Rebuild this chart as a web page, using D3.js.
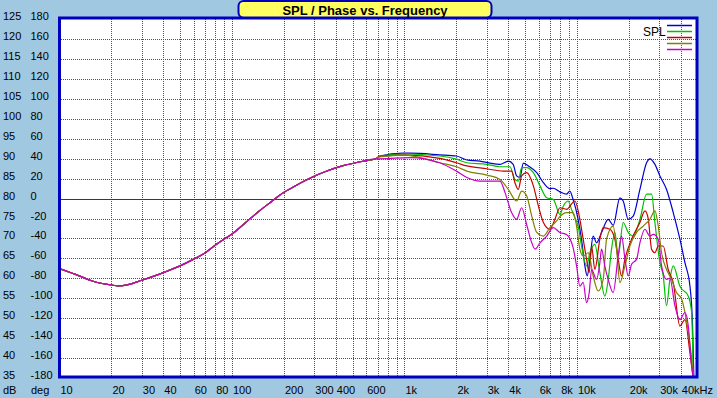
<!DOCTYPE html>
<html><head><meta charset="utf-8">
<script src="https://cdn.jsdelivr.net/npm/d3@7"></script>
<style>html,body{margin:0;padding:0;background:#a0c8e0;} svg{display:block;}</style>
</head><body><svg id="c" width="717" height="398"></svg>
<script>
// ---------- data ----------
const dbLabels  = [125,120,115,110,105,100,95,90,85,80,75,70,65,60,55,50,45,40,35];
const degLabels = [180,160,140,120,100,80,60,40,20,0,-20,-40,-60,-80,-100,-120,-140,-160,-180];
const freqLabelValues = [10,20,30,40,60,80,100,200,300,400,600,1000,2000,3000,4000,6000,8000,10000,20000,30000,40000];
const freqLabelTexts  = ["10","20","30","40","60","80","100","200","300","400","600","1k","2k","3k","4k","6k","8k","10k","20k","30k","40kHz"];
const seriesNames = ["blue","green","red","olive","magenta"];
const seriesColors = ["#0000d0","#00c000","#c80000","#808000","#c800c8"];

// shared low/mid frequency part (all curves coincide)
const sharedFreq = [10,13,15.5,20,22,25,30,40,50,60,70,80,90,100,120,144,171,188,224,279,349,436,545,681];
const sharedSPL  = [62.4,60.6,59.3,58.3,58.1,58.4,59.5,61.4,63.1,64.8,66.4,68.3,69.8,71.1,74.0,76.9,79.4,80.8,82.8,85.0,86.8,88.2,89.2,90.0];

const blueFreq = [720,980,1080,1600,2000,2300,2740,3130,3580,4000,4270,4470,4670,4890,5230,5850,6390,6970,7290,7970,8700,9090,9500,10160,10630,11120,11470,11890,12420,12990,13890,15180,16220,17740,18540,19830,21200,23180,25340,26490,28320,30270,33080,36160,39540,42280,45220,46800,47640];
const blueSPL  = [90.7,91.4,91.4,91.0,90.7,89.7,89.4,88.9,88.6,89.4,88.6,85.7,85.3,88.9,88.2,86.5,84.0,82.5,82.6,81.7,81.1,81.9,79.8,74.8,69.8,63.1,60.6,64.8,70.6,68.9,71.5,74.8,73.3,80.2,79.4,74.8,75.6,82.3,89.0,90.0,88.6,85.7,82.3,76.5,69.8,63.9,58.0,48.0,35.0];

const greenFreq = [720,1000,1600,2000,2300,3000,3580,4090,4370,4570,4780,5110,5590,6110,6680,7290,7970,8330,8890,9300,9730,10160,10630,11370,11890,12700,13580,14520,15180,15870,16590,17340,18540,19830,21200,23180,25340,27090,28320,30270,31640,33080,34590,36160,39540,44220,46240,47200];
const greenSPL  = [90.7,91.2,90.7,89.9,89.0,88.6,88.0,88.0,84.8,84.4,87.8,87.8,86.5,83.2,80.2,79.8,76.0,78.1,79.4,77.3,75.2,73.1,68.1,63.1,66.4,68.5,61.4,55.5,59.7,67.3,71.5,65.6,74.0,71.5,70.6,74.8,81.1,81.1,74.0,63.9,60.6,53.1,59.7,63.1,58.0,55.5,51.4,35.6];

const redFreq = [720,1000,1600,2000,2300,3000,3740,4180,4370,4570,4780,5110,5590,5980,6390,6970,7450,7970,8700,9730,10400,10870,11370,11780,12160,12700,13580,14200,15520,16590,17340,18140,18970,20740,23180,24780,25900,27090,28320,29600,31640,33820,36160,39540,42280,45220,47200];
const redSPL  = [90.6,90.9,90.1,89.0,88.2,87.5,86.9,86.9,84.0,82.3,85.7,86.5,83.2,78.1,74.0,72.3,74.8,77.7,77.3,79.4,74.8,69.8,64.8,61.4,68.1,62.2,69.8,72.7,72.3,69.8,64.8,60.6,64.8,69.8,74.0,76.9,75.0,67.3,66.4,68.1,68.1,62.2,58.9,48.0,49.6,41.2,35.0];

const oliveFreq = [720,1000,1600,2000,2300,3000,3580,4000,4470,4780,5110,5470,5850,6390,6970,7620,7970,8700,9500,9950,10400,10870,11630,12420,13280,14200,14850,16220,16970,17740,18970,20280,22180,24230,26490,28320,29600,30950,33080,35370,37820,40440,42280,44220,46240,47200];
const oliveSPL  = [90.5,90.9,89.0,88.0,86.9,85.9,84.8,82.3,79.4,81.9,80.7,75.6,71.5,70.6,72.7,74.4,75.5,76.5,76.5,73.1,67.3,65.6,66.4,60.6,56.8,59.7,69.8,73.1,67.3,58.9,63.1,68.1,71.5,73.1,74.8,76.9,73.1,66.4,62.2,59.7,56.4,54.8,51.4,46.4,39.7,35.0];

const magentaFreq = [720,1080,1600,2000,2300,2740,3130,3580,3830,4180,4470,4780,5110,5470,5720,6110,6680,7290,7970,8700,9500,9950,10400,10870,11370,11780,12160,12990,13580,13890,14520,15180,16220,17340,18140,18970,19830,20740,22180,23180,24780,26490,27690,29600,30950,33080,34590,36990,39540,42280,44220,46240,47200];
const magentaSPL  = [90.0,90.3,89.0,86.9,85.3,84.4,84.4,84.4,81.5,76.5,74.8,77.7,73.5,68.9,67.3,68.9,70.6,72.7,71.5,71.0,67.7,63.1,58.0,59.0,53.9,56.4,62.2,59.7,63.9,67.3,63.0,59.7,56.4,65.6,70.6,65.0,60.6,63.5,64.8,68.9,72.3,70.6,71.0,69.8,63.1,59.7,60.0,53.1,49.6,51.4,48.0,38.0,35.0];

const seriesFreq = [blueFreq, greenFreq, redFreq, oliveFreq, magentaFreq];
const seriesSPL  = [blueSPL, greenSPL, redSPL, oliveSPL, magentaSPL];

// ---------- drawing ----------
const W = 717, H = 398;
const L = 59.5, R = 697.5, T = 19.4, B = 377.8;
const svg = d3.select("#c");
const font = "'Liberation Sans', Arial, sans-serif";

const x = d3.scaleLog().domain([10, 50000]).range([L, R]);
const y = d3.scaleLinear().domain([35, 125]).range([B, T]);
const yDeg = d3.scaleLinear().domain([-180, 180]).range([B, T]);

svg.append("rect").attr("width", W).attr("height", H).attr("fill", "#a0c8e0");
svg.append("rect").attr("x", L).attr("y", 18).attr("width", 697 - L).attr("height", 377 - 18).attr("fill", "#fff");

const grid = svg.append("g").attr("stroke", "#008c00").attr("stroke-width", 1)
  .attr("stroke-dasharray", "1,1");
x.ticks().filter(f => f > 10 && f < 50000).forEach(f => {
  const px = Math.round(x(f)) + 0.5;
  grid.append("line").attr("x1", px).attr("x2", px).attr("y1", 19).attr("y2", 376);
});
dbLabels.filter(d => d > 35 && d < 125).forEach(d => {
  const py = Math.round(y(d)) + 0.5;
  grid.append("line").attr("x1", 61).attr("x2", 696).attr("y1", py).attr("y2", py);
});

// 0 degree reference line
svg.append("line").attr("x1", 61).attr("x2", 696)
  .attr("y1", Math.round(yDeg(0)) + 0.5).attr("y2", Math.round(yDeg(0)) + 0.5)
  .attr("stroke", "#c00000").attr("stroke-width", 1);

svg.append("clipPath").attr("id", "clip").append("rect")
  .attr("x", L).attr("y", 18).attr("width", 697 - L).attr("height", 377 - 18);

const line = d3.line().x(d => x(d[0])).y(d => y(d[1])).curve(d3.curveMonotoneX);
const lines = svg.append("g").attr("clip-path", "url(#clip)");
seriesNames.forEach((name, i) => {
  const pts = sharedFreq.map((f, k) => [f, sharedSPL[k]])
    .concat(seriesFreq[i].map((f, k) => [f, seriesSPL[i][k]]));
  lines.append("path").datum(pts).attr("d", line)
    .attr("fill", "none").attr("stroke", seriesColors[i]).attr("stroke-width", 1.2)
    .attr("stroke-linejoin", "round");
});

// plot border
svg.append("rect").attr("x", L).attr("y", 18).attr("width", 697 - L).attr("height", 377 - 18)
  .attr("fill", "none").attr("stroke", "#0000c0").attr("stroke-width", 3);

// title
svg.append("rect").attr("x", 238.5).attr("y", 1).attr("width", 253).attr("height", 16.5).attr("rx", 5)
  .attr("fill", "#ffff60").attr("stroke", "#0000c0").attr("stroke-width", 2);
svg.append("text").attr("x", 365).attr("y", 14.5).attr("text-anchor", "middle")
  .attr("font-family", font).attr("font-size", 13).attr("font-weight", "bold").attr("fill", "#000")
  .text("SPL / Phase vs. Frequency");

// left labels
const lab = svg.append("g").attr("font-family", font).attr("font-size", 11).attr("fill", "#000");
dbLabels.forEach(d => {
  lab.append("text").attr("x", 3).attr("y", y(d) + 1).text(d);
});
degLabels.forEach(d => {
  lab.append("text").attr("x", 30.5).attr("y", yDeg(d) + 1).text(d);
});
lab.append("text").attr("x", 3).attr("y", 394).text("dB");
lab.append("text").attr("x", 31).attr("y", 394).text("deg");
freqLabelValues.forEach((f, i) => {
  lab.append("text").attr("x", x(f) + 1).attr("y", 394).text(freqLabelTexts[i]);
});

// legend
lab.append("text").attr("x", 643).attr("y", 36).attr("font-size", 12).text("SPL");
seriesColors.forEach((c, i) => {
  svg.append("line").attr("x1", 667).attr("x2", 692).attr("y1", 25.5 + i * 6).attr("y2", 25.5 + i * 6)
    .attr("stroke", c).attr("stroke-width", 1.5);
});
</script></body></html>
